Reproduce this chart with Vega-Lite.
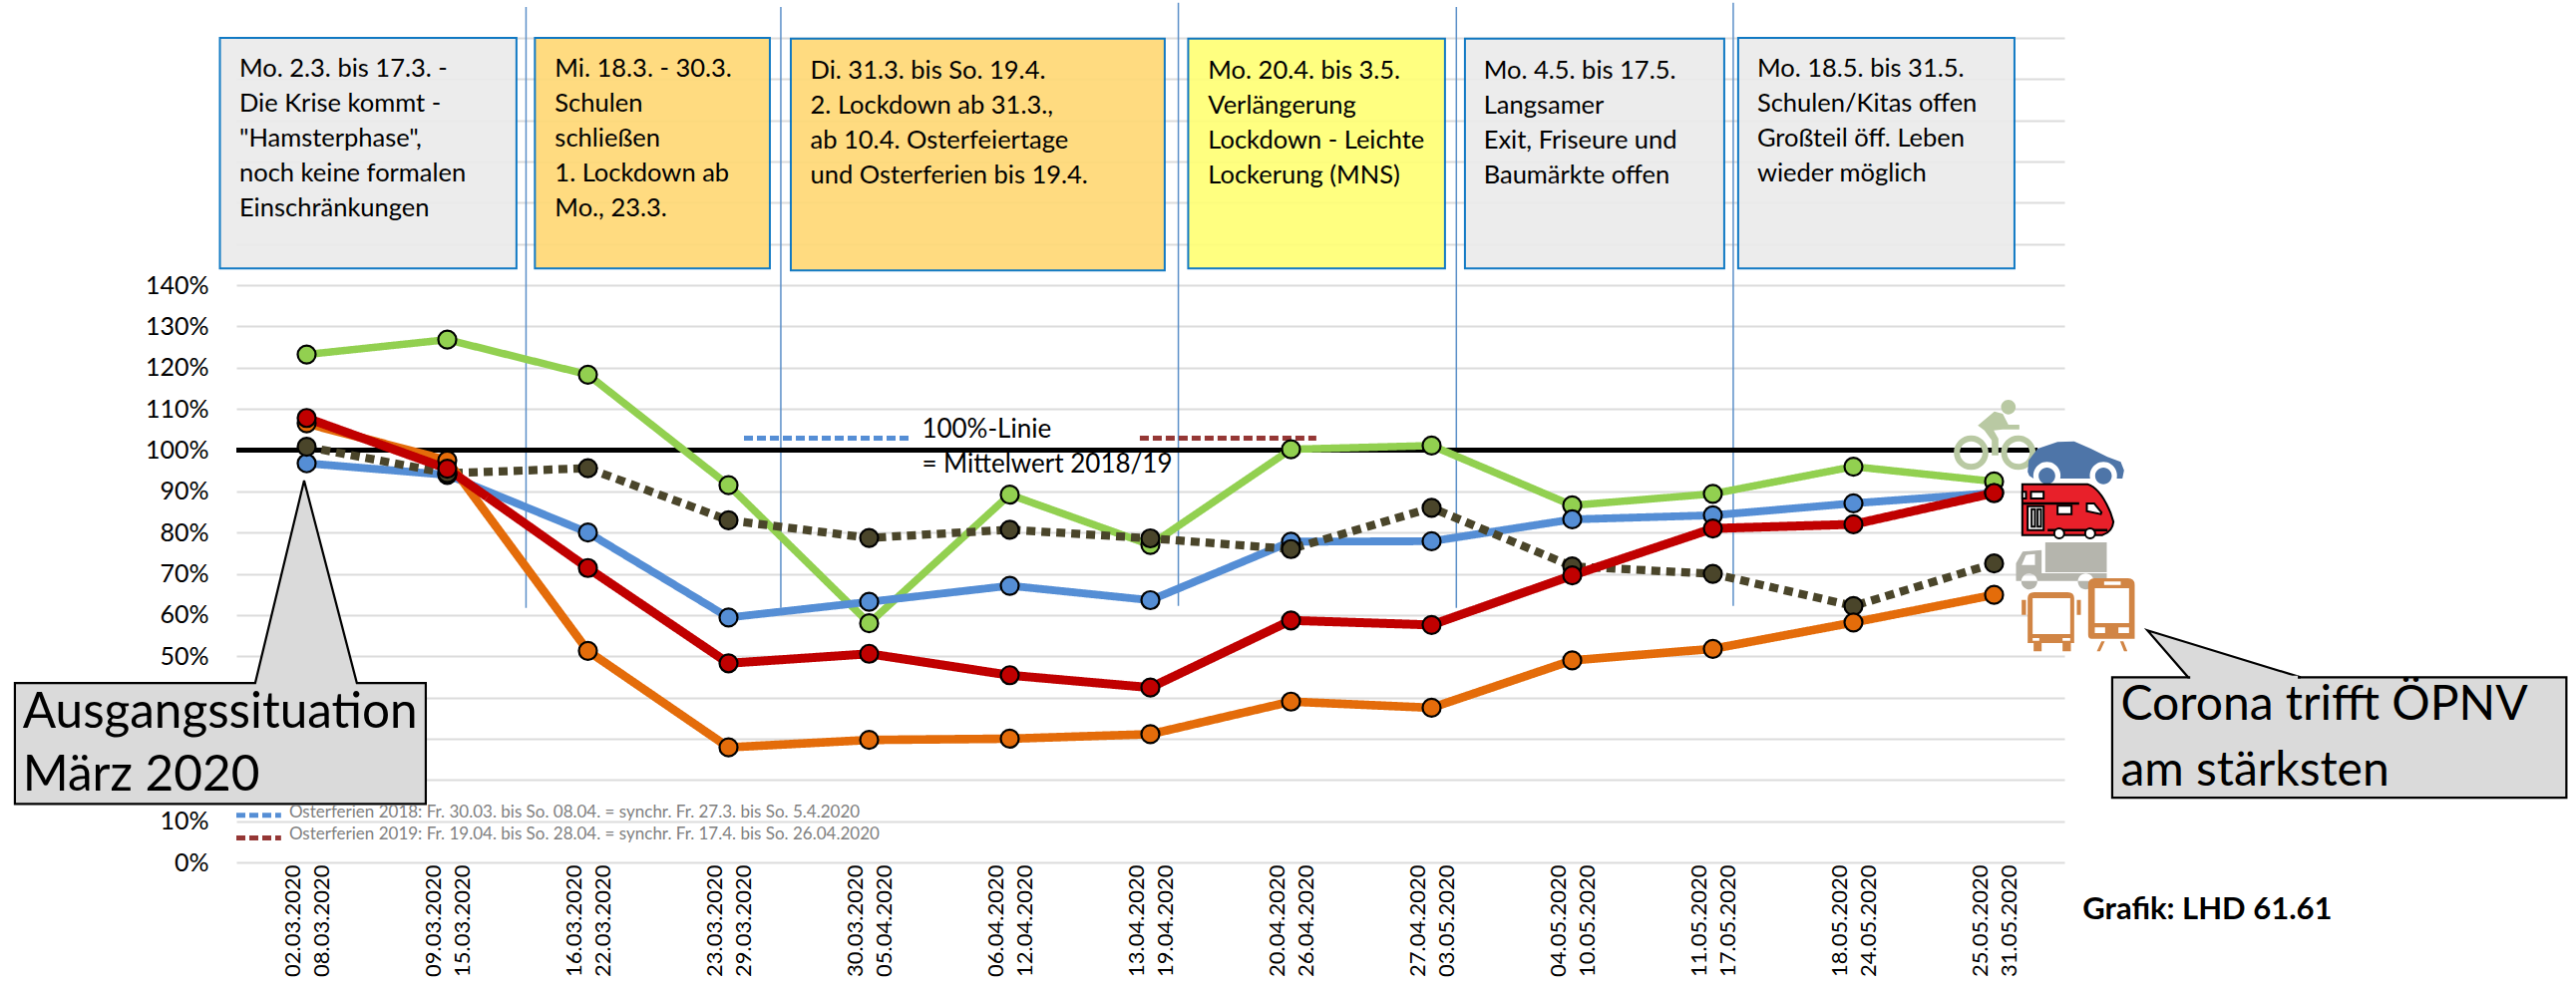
{
"$schema":"https://vega.github.io/schema/vega-lite/v6.json",
"width":1833,"height":827,
"autosize":{"type":"none"},
"padding":{"left":237,"top":38,"right":513,"bottom":125},
"background":"white",
"config":{"view":{"stroke":null},"font":"Lato"},
"encoding":{
 "x":{"field":"woche","type":"quantitative","scale":{"domain":[-0.5,12.5],"nice":false,"zero":false},
  "axis":{"title":null,"grid":false,"domain":false,"ticks":false,"values":[0,1,2,3,4,5,6,7,8,9,10,11,12],"labelAngle":-90,"labelAlign":"right","labelBaseline":"middle","labelFont":"Lato","labelFontSize":22,"labelColor":"#000000","labelPadding":2,"labelLineHeight":29,"labelOffset":-14,"labelOverlap":false,"labelFlush":false,
  "labelExpr":"[['02.03.2020','08.03.2020'],['09.03.2020','15.03.2020'],['16.03.2020','22.03.2020'],['23.03.2020','29.03.2020'],['30.03.2020','05.04.2020'],['06.04.2020','12.04.2020'],['13.04.2020','19.04.2020'],['20.04.2020','26.04.2020'],['27.04.2020','03.05.2020'],['04.05.2020','10.05.2020'],['11.05.2020','17.05.2020'],['18.05.2020','24.05.2020'],['25.05.2020','31.05.2020']][datum.value]"}},
 "y":{"field":"prozent","type":"quantitative","scale":{"domain":[0,200],"nice":false,"zero":false},
  "axis":{"title":null,"domain":false,"ticks":false,"grid":true,"gridColor":"#dcdcdc","gridWidth":2,"values":[0,10,20,30,40,50,60,70,80,90,100,110,120,130,140,150,160,170,180,190,200],"labelFont":"Lato","labelFontSize":25,"labelColor":"#000000","labelPadding":28,"labelOverlap":false,"labelFlush":false,"labelExpr":"(datum.value<=140 && (datum.value<20 || datum.value>40)) ? datum.value+'%' : ''"}}
},
"layer":[
 {"data":{"values":[{"woche":-0.617,"ende":1.492,"prozent":200,"bis":144.1},{"woche":8.237,"ende":10.081,"prozent":199.8,"bis":144.1},{"woche":10.18,"ende":12.145,"prozent":200,"bis":144.1}]},
  "mark":{"type":"rect","stroke":"#0070c0","strokeWidth":2,"fill":"#ebebeb","opacity":0.93},
  "encoding":{"x2":{"field":"ende"},"y2":{"field":"bis"}}},
 {"data":{"values":[{"woche":1.623,"ende":3.294,"prozent":200,"bis":144.1},{"woche":3.443,"ende":6.102,"prozent":199.8,"bis":143.6}]},
  "mark":{"type":"rect","stroke":"#0070c0","strokeWidth":2,"fill":"#ffd977","opacity":0.93},
  "encoding":{"x2":{"field":"ende"},"y2":{"field":"bis"}}},
 {"data":{"values":[{"woche":6.269,"ende":8.095,"prozent":199.8,"bis":144.1}]},
  "mark":{"type":"rect","stroke":"#0070c0","strokeWidth":2,"fill":"#ffff77","opacity":0.93},
  "encoding":{"x2":{"field":"ende"},"y2":{"field":"bis"}}},
 {"data":{"values":[{"woche":1.56,"prozent":207.5,"bis":61.7},{"woche":3.372,"prozent":207.5,"bis":61.7},{"woche":6.199,"prozent":208.5,"bis":62.2},{"woche":8.176,"prozent":207.5,"bis":61.7},{"woche":10.145,"prozent":208.5,"bis":62.2}]},
  "mark":{"type":"rule","color":"#5b8fc8","strokeWidth":1.5},
  "encoding":{"y2":{"field":"bis"}}},
 {"data":{"values":[{"woche":-0.5,"ende":12.31,"prozent":100}]},
  "mark":{"type":"rule","color":"#000000","strokeWidth":5},
  "encoding":{"x2":{"field":"ende"}}},
 {"data":{"values":[{"woche":3.11,"ende":4.287,"prozent":102.9},{"woche":-0.5,"ende":-0.182,"prozent":11.4}]},
  "mark":{"type":"rule","strokeWidth":5,"strokeDash":[9,4],"color":"#558ed5"},
  "encoding":{"x2":{"field":"ende"}}},
 {"data":{"values":[{"woche":5.925,"ende":7.18,"prozent":102.9},{"woche":-0.5,"ende":-0.182,"prozent":5.9}]},
  "mark":{"type":"rule","strokeWidth":5,"strokeDash":[9,4],"color":"#953735"},
  "encoding":{"x2":{"field":"ende"}}},
 {"data":{"values":[{"woche":12.357,"prozent":82.63}]},
  "layer":[
   {"mark":{"type":"point","size":4444,"filled":true,"opacity":1,"fill":"#b9c9a3","strokeWidth":0,"shape":"M-1.30 -3.45A.22 .22 0 1 0 -.86 -3.45A.22 .22 0 1 0 -1.30 -3.45ZM-2 -2.9L-1.5 -3.32L-1.25 -3.25L-1.08 -2.92L-.75 -2.92L-.75 -2.78L-1.25 -2.78L-1.52 -2.75L-1.38 -2.5L-1.38 -2L-1.58 -2L-1.58 -2.45L-1.8 -2.75ZM-2.72 -2.08A.52 .52 0 1 0 -1.68 -2.08A.52 .52 0 1 0 -2.72 -2.08ZM-2.54 -2.08A.34 .34 0 1 1 -1.86 -2.08A.34 .34 0 1 1 -2.54 -2.08ZM-1.30 -2.08A.52 .52 0 1 0 -.26 -2.08A.52 .52 0 1 0 -1.30 -2.08ZM-1.12 -2.08A.34 .34 0 1 1 -.44 -2.08A.34 .34 0 1 1 -1.12 -2.08Z"}},
   {"mark":{"type":"point","size":4444,"filled":true,"opacity":1,"fill":"#4e75a8","strokeWidth":0,"shape":"M-.5 -1.5L-.47 -1.85L-.2 -2.2L.4 -2.4L.9 -2.42L1.4 -2.2L1.9 -1.95L2.3 -1.8L2.4 -1.55L2.35 -1.3L2.18 -1.3A.41 .41 0 1 0 1.38 -1.3L.48 -1.3A.41 .41 0 1 0 -.32 -1.3L-.45 -1.38ZM-.17 -1.38A.25 .25 0 1 0 .33 -1.38A.25 .25 0 1 0 -.17 -1.38ZM1.53 -1.38A.25 .25 0 1 0 2.03 -1.38A.25 .25 0 1 0 1.53 -1.38Z"}},
   {"mark":{"type":"point","size":4444,"filled":true,"opacity":1,"fill":"#e8202a","stroke":"#000000","strokeWidth":2,"shape":"M-.66 -1.13L1.3 -1.13Q1.7 -1 2 -.25L2.08 0Q2.05 .3 1.75 .4L-.66 .4Z"}},
   {"mark":{"type":"point","size":4444,"filled":false,"opacity":1,"stroke":"#000000","strokeWidth":2.5,"shape":"M-.66 -.55L1.05 -.55M.1 .25L1.9 .25"}},
   {"mark":{"type":"point","size":4444,"filled":true,"opacity":1,"fill":"#ffffff","stroke":"#000000","strokeWidth":2,"shape":"M-.4 -.9L-.02 -.9L-.02 -.7L-.4 -.7ZM-.66 -.9L-.55 -.9L-.55 -.7L-.66 -.7ZM.4 -.48L.82 -.48L.82 -.23L.4 -.23ZM1.28 -.55L1.5 -.55L1.72 -.28L1.7 -.23L1.28 -.32ZM-.5 -.47L-.02 -.47L-.02 .25L-.5 .25ZM-.38 -.38L-.28 -.38L-.28 .15L-.38 .15ZM-.2 -.38L-.1 -.38L-.1 .15L-.2 .15ZM.3 .35A.15 .15 0 1 0 .6 .35A.15 .15 0 1 0 .3 .35ZM1.23 .35A.15 .15 0 1 0 1.53 .35A.15 .15 0 1 0 1.23 .35Z"}},
   {"mark":{"type":"point","size":4444,"filled":true,"opacity":1,"fill":"#b5b5ad","strokeWidth":0,"shape":"M.03 .62L1.88 .62L1.88 1.52L.03 1.52ZM-.85 1.25L-.65 .9L-.08 .85L-.08 1.55L1.88 1.55L1.88 1.78L-.85 1.78ZM-.69 1.8A.24 .24 0 1 0 -.21 1.8A.24 .24 0 1 0 -.69 1.8ZM1.01 1.8A.24 .24 0 1 0 1.49 1.8A.24 .24 0 1 0 1.01 1.8Z"}},
   {"mark":{"type":"point","size":4444,"filled":true,"opacity":1,"fill":"#ffffff","strokeWidth":0,"shape":"M-.68 1.3L-.55 1L-.28 .97L-.28 1.3Z"}},
   {"mark":{"type":"point","size":4444,"filled":true,"opacity":1,"fill":"#d18545","strokeWidth":0,"shape":"M-.5 2.3Q-.5 2.12 -.3 2.12L.7 2.12Q.9 2.12 .9 2.3L.9 3.65L-.5 3.65ZM-.68 2.35L-.55 2.35L-.55 2.8L-.68 2.8ZM.98 2.35L1.1 2.35L1.1 2.8L.98 2.8ZM-.32 3.65L-.08 3.65L-.08 3.9L-.32 3.9ZM.55 3.65L.8 3.65L.8 3.9L.55 3.9ZM1.32 1.9Q1.32 1.7 1.52 1.7L2.52 1.7Q2.72 1.7 2.72 1.9L2.72 3.52L1.42 3.52Q1.32 3.52 1.32 3.4ZM1.72 3.6L1.82 3.6L1.68 3.9L1.58 3.9ZM2.28 3.6L2.38 3.6L2.5 3.9L2.4 3.9Z"}},
   {"mark":{"type":"point","size":4444,"filled":true,"opacity":1,"fill":"#ffffff","strokeWidth":0,"shape":"M-.35 2.3L.78 2.3L.78 3.38L-.35 3.38ZM-.35 3.5L-.15 3.5L-.15 3.58L-.35 3.58ZM.55 3.5L.78 3.5L.78 3.58L.55 3.58ZM1.52 2L2.55 2L2.55 3.05L1.52 3.05ZM1.8 1.8L2.3 1.8L2.3 1.9L1.8 1.9ZM1.52 3.18L1.83 3.18L1.83 3.35L1.52 3.35ZM2.23 3.18L2.55 3.18L2.55 3.35L2.23 3.35Z"}}
  ]},
 {"data":{"name":"reihen","values":[
  {"woche":0,"prozent":123.2,"reihe":"Rad"},{"woche":1,"prozent":126.8,"reihe":"Rad"},{"woche":2,"prozent":118.3,"reihe":"Rad"},{"woche":3,"prozent":91.5,"reihe":"Rad"},{"woche":4,"prozent":58,"reihe":"Rad"},{"woche":5,"prozent":89.2,"reihe":"Rad"},{"woche":6,"prozent":77,"reihe":"Rad"},{"woche":7,"prozent":100.2,"reihe":"Rad"},{"woche":8,"prozent":101.1,"reihe":"Rad"},{"woche":9,"prozent":86.6,"reihe":"Rad"},{"woche":10,"prozent":89.4,"reihe":"Rad"},{"woche":11,"prozent":96,"reihe":"Rad"},{"woche":12,"prozent":92.4,"reihe":"Rad"},
  {"woche":0,"prozent":96.8,"reihe":"Pkw"},{"woche":1,"prozent":94,"reihe":"Pkw"},{"woche":2,"prozent":80,"reihe":"Pkw"},{"woche":3,"prozent":59.4,"reihe":"Pkw"},{"woche":4,"prozent":63.2,"reihe":"Pkw"},{"woche":5,"prozent":67.1,"reihe":"Pkw"},{"woche":6,"prozent":63.6,"reihe":"Pkw"},{"woche":7,"prozent":77.8,"reihe":"Pkw"},{"woche":8,"prozent":77.9,"reihe":"Pkw"},{"woche":9,"prozent":83.2,"reihe":"Pkw"},{"woche":10,"prozent":84.2,"reihe":"Pkw"},{"woche":11,"prozent":87.1,"reihe":"Pkw"},{"woche":12,"prozent":89.6,"reihe":"Pkw"},
  {"woche":0,"prozent":100.8,"reihe":"Lkw"},{"woche":1,"prozent":94.4,"reihe":"Lkw"},{"woche":2,"prozent":95.6,"reihe":"Lkw"},{"woche":3,"prozent":83,"reihe":"Lkw"},{"woche":4,"prozent":78.7,"reihe":"Lkw"},{"woche":5,"prozent":80.7,"reihe":"Lkw"},{"woche":6,"prozent":78.6,"reihe":"Lkw"},{"woche":7,"prozent":76,"reihe":"Lkw"},{"woche":8,"prozent":86,"reihe":"Lkw"},{"woche":9,"prozent":71.8,"reihe":"Lkw"},{"woche":10,"prozent":70,"reihe":"Lkw"},{"woche":11,"prozent":62.2,"reihe":"Lkw"},{"woche":12,"prozent":72.5,"reihe":"Lkw"},
  {"woche":0,"prozent":106.5,"reihe":"ÖPNV"},{"woche":1,"prozent":97.5,"reihe":"ÖPNV"},{"woche":2,"prozent":51.3,"reihe":"ÖPNV"},{"woche":3,"prozent":27.9,"reihe":"ÖPNV"},{"woche":4,"prozent":29.7,"reihe":"ÖPNV"},{"woche":5,"prozent":30,"reihe":"ÖPNV"},{"woche":6,"prozent":31.1,"reihe":"ÖPNV"},{"woche":7,"prozent":39,"reihe":"ÖPNV"},{"woche":8,"prozent":37.5,"reihe":"ÖPNV"},{"woche":9,"prozent":49,"reihe":"ÖPNV"},{"woche":10,"prozent":51.8,"reihe":"ÖPNV"},{"woche":11,"prozent":58.2,"reihe":"ÖPNV"},{"woche":12,"prozent":64.9,"reihe":"ÖPNV"},
  {"woche":0,"prozent":107.8,"reihe":"Bahn"},{"woche":1,"prozent":95.5,"reihe":"Bahn"},{"woche":2,"prozent":71.4,"reihe":"Bahn"},{"woche":3,"prozent":48.3,"reihe":"Bahn"},{"woche":4,"prozent":50.6,"reihe":"Bahn"},{"woche":5,"prozent":45.4,"reihe":"Bahn"},{"woche":6,"prozent":42.4,"reihe":"Bahn"},{"woche":7,"prozent":58.7,"reihe":"Bahn"},{"woche":8,"prozent":57.6,"reihe":"Bahn"},{"woche":9,"prozent":69.6,"reihe":"Bahn"},{"woche":10,"prozent":81,"reihe":"Bahn"},{"woche":11,"prozent":82,"reihe":"Bahn"},{"woche":12,"prozent":89.6,"reihe":"Bahn"}
  ]},
  "layer":[
   {"mark":{"type":"line","interpolate":"linear"},
    "encoding":{"color":{"field":"reihe","type":"nominal","legend":null,"sort":["Rad","Pkw","Lkw","ÖPNV","Bahn"],"scale":{"domain":["Rad","Pkw","Lkw","ÖPNV","Bahn"],"range":["#92d050","#558ed5","#4a452a","#e46c0a","#c00000"]}},
     "strokeWidth":{"field":"reihe","type":"nominal","legend":null,"scale":{"domain":["Rad","Pkw","Lkw","ÖPNV","Bahn"],"range":[7.5,9,3,8.5,8.5]}},
     "strokeDash":{"field":"reihe","type":"nominal","legend":null,"scale":{"domain":["Rad","Pkw","Lkw","ÖPNV","Bahn"],"range":[[1,0],[1,0],[9,6],[1,0],[1,0]]}}}},
   {"mark":{"type":"point","filled":true,"size":324,"opacity":1,"stroke":"#000000","strokeWidth":2.2,"shape":"circle"},
    "encoding":{"fill":{"field":"reihe","type":"nominal","legend":null,"scale":{"domain":["Rad","Pkw","Lkw","ÖPNV","Bahn"],"range":["#92d050","#558ed5","#4a452a","#e46c0a","#c00000"]}}}}
  ]},
 {"data":{"values":[{"woche":-2.075,"prozent":43.5,"bis":14.2},{"woche":-0.366,"prozent":43.5,"bis":14.2},{"woche":-0.018,"prozent":92.6,"bis":14.2},{"woche":0.357,"prozent":43.5,"bis":14.2},{"woche":0.847,"prozent":43.5,"bis":14.2}]},
  "mark":{"type":"area","fill":"#dadada","stroke":"#000000","strokeWidth":2.2,"opacity":1,"interpolate":"linear"},
  "encoding":{"y2":{"field":"bis"}}},
 {"data":{"values":[{"woche":12.84,"prozent":44.9,"bis":15.7},{"woche":16.07,"prozent":44.9,"bis":15.7}]},
  "mark":{"type":"area","fill":"#dadada","stroke":"#000000","strokeWidth":2.2,"opacity":1,"interpolate":"linear"},
  "encoding":{"y2":{"field":"bis"}}},
 {"data":{"values":[{"woche":13.09,"prozent":56.3,"bis":56.3},{"woche":13.38,"prozent":53.27,"bis":44.9},{"woche":14.18,"prozent":44.9,"bis":44.9}]},
  "mark":{"type":"area","fill":"#dadada","stroke":"#000000","strokeWidth":2.2,"opacity":1,"interpolate":"linear"},
  "encoding":{"y2":{"field":"bis"}}},
 {"data":{"values":[{"woche":13.395,"ende":14.16,"prozent":44.9}]},
  "mark":{"type":"rule","color":"#dadada","strokeWidth":3.4},
  "encoding":{"x2":{"field":"ende"}}},
 {"data":{"values":[
   {"woche":-0.479,"prozent":195.3,"text":"Mo. 2.3. bis 17.3. -\nDie Krise kommt -\n\"Hamsterphase\",\nnoch keine formalen\nEinschränkungen"},
   {"woche":1.765,"prozent":195.3,"text":"Mi. 18.3. - 30.3.\nSchulen\nschließen\n1. Lockdown ab\nMo., 23.3."},
   {"woche":3.582,"prozent":195,"text":"Di. 31.3. bis So. 19.4.\n2. Lockdown ab 31.3.,\nab 10.4. Osterfeiertage\nund Osterferien bis 19.4."},
   {"woche":6.41,"prozent":195,"text":"Mo. 20.4. bis 3.5.\nVerlängerung\nLockdown - Leichte\nLockerung (MNS)"},
   {"woche":8.37,"prozent":195,"text":"Mo. 4.5. bis 17.5.\nLangsamer\nExit, Friseure und\nBaumärkte offen"},
   {"woche":10.315,"prozent":195.3,"text":"Mo. 18.5. bis 31.5.\nSchulen/Kitas offen\nGroßteil öff. Leben\nwieder möglich"}]},
  "mark":{"type":"text","align":"left","baseline":"top","font":"Lato","fontSize":25.5,"lineHeight":35,"lineBreak":"\n","color":"#000000"},
  "encoding":{"text":{"field":"text"}}},
 {"data":{"values":[{"woche":4.375,"prozent":105,"text":"100%-Linie"},{"woche":4.375,"prozent":96.5,"text":"= Mittelwert 2018/19"}]},
  "mark":{"type":"text","align":"left","baseline":"middle","font":"Lato","fontSize":26,"color":"#000000"},
  "encoding":{"text":{"field":"text"}}},
 {"data":{"values":[{"woche":-0.125,"prozent":12.1,"text":"Osterferien 2018: Fr. 30.03. bis So. 08.04. = synchr. Fr. 27.3. bis So. 5.4.2020"},{"woche":-0.125,"prozent":6.8,"text":"Osterferien 2019: Fr. 19.04. bis So. 28.04. = synchr. Fr. 17.4. bis So. 26.04.2020"}]},
  "mark":{"type":"text","align":"left","baseline":"middle","font":"Lato","fontSize":17,"color":"#7f7f7f"},
  "encoding":{"text":{"field":"text"}}},
 {"data":{"values":[{"woche":-2.02,"prozent":36.3,"text":"Ausgangssituation"},{"woche":-2.02,"prozent":21,"text":"März 2020"}]},
  "mark":{"type":"text","align":"left","baseline":"middle","font":"Lato","fontSize":49.5,"color":"#000000"},
  "encoding":{"text":{"field":"text"}}},
 {"data":{"values":[{"woche":12.9,"prozent":38,"text":"Corona trifft ÖPNV"},{"woche":12.9,"prozent":22,"text":"am stärksten"}]},
  "mark":{"type":"text","align":"left","baseline":"middle","font":"Lato","fontSize":48,"color":"#000000"},
  "encoding":{"text":{"field":"text"}}},
 {"data":{"values":[{"woche":12.63,"prozent":-11.6,"text":"Grafik: LHD 61.61"}]},
  "mark":{"type":"text","align":"left","baseline":"middle","font":"Lato","fontSize":31,"fontWeight":"bold","color":"#000000"},
  "encoding":{"text":{"field":"text"}}}
]
}
